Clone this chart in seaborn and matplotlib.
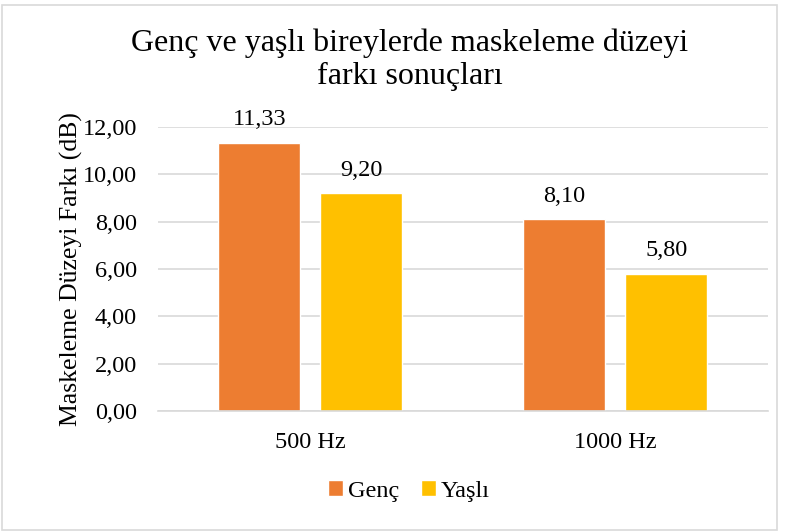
import pandas as pd
import seaborn as sns
import matplotlib.pyplot as plt
from matplotlib.ticker import FuncFormatter

frekans = ["500 Hz", "1000 Hz"]
gruplar = ["Genç", "Yaşlı"]
genc = [11.33, 8.10]
yasli = [9.20, 5.80]

df = pd.DataFrame({
    "Frekans": frekans * 2,
    "Grup": [gruplar[0]] * 2 + [gruplar[1]] * 2,
    "Deger": genc + yasli,
})

sns.set_theme(style="white")
plt.rcParams['font.family'] = ['Liberation Serif', 'DejaVu Serif']
plt.rcParams['text.color'] = 'black'

fig = plt.figure(figsize=(7.85, 5.32), dpi=100)
ax = fig.add_axes([0.201, 0.2274, 0.777, 0.5339])

sns.barplot(data=df, x="Frekans", y="Deger", hue="Grup",
            palette=["#ED7D31", "#FFC000"], width=0.67, gap=0.2,
            saturation=1, ax=ax, legend=True)

ax.set_ylim(0, 12)
ax.set_yticks(range(0, 13, 2))
ax.yaxis.set_major_formatter(FuncFormatter(lambda v, p: f"{v:.2f}".replace(".", ",")))
ax.grid(axis="y", color="#d9d9d9", linewidth=1.2)
ax.set_axisbelow(True)
for s in ["top", "right", "left"]:
    ax.spines[s].set_visible(False)
ax.spines["bottom"].set_color("#d9d9d9")
ax.spines["bottom"].set_linewidth(1.2)
ax.tick_params(axis="y", length=0, labelsize=17.5, colors="black", pad=15)
ax.tick_params(axis="x", length=0, labelsize=17.5, colors="black", pad=15)
ax.set_xlabel("")
ax.set_ylabel("Maskeleme Düzeyi Farkı (dB)", fontsize=18.5, color="black")
ax.yaxis.set_label_coords(-0.122, 0.5)

for c in ax.containers:
    ax.bar_label(c, labels=[f"{v:.2f}".replace(".", ",") for v in c.datavalues],
                 fontsize=17.5, padding=9, color="black")

ax.legend_.remove()
handles, labels = ax.get_legend_handles_labels()
fig.legend(handles[:2], labels[:2], loc="center", bbox_to_anchor=(0.521, 0.077),
           ncol=2, frameon=False, fontsize=17.5, handlelength=0.6, handleheight=0.6,
           handletextpad=0.2, columnspacing=0.9)

fig.text(0.522, 0.888, "Genç ve yaşlı bireylerde maskeleme düzeyi\nfarkı sonuçları",
         ha="center", va="center", fontsize=23, linespacing=1.2)

fig.patches.append(plt.Rectangle((0.002, 0.004), 0.988, 0.986, transform=fig.transFigure,
                                 fill=False, edgecolor="#d9d9d9", linewidth=1.2))

fig.savefig("out.png", dpi=100)
